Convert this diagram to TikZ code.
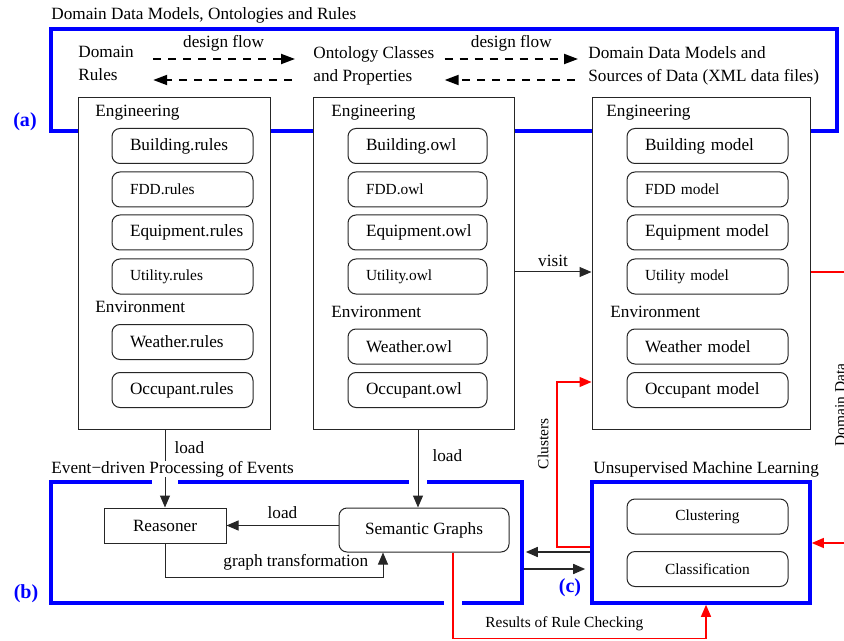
\documentclass[tikz,border=0pt]{standalone}
\usepackage{fontspec}
\setmainfont{Liberation Serif}
\usetikzlibrary{arrows.meta,fit}
\hyphenpenalty=10000
\tikzset{
  smalltext/.style={font=\fontsize{7.7pt}{9pt}\selectfont},
  region/.style={draw=blue, line width=1.8pt, inner sep=0pt},
  colbox/.style={draw=black!85, fill=white, line width=0.5pt, inner sep=0pt},
  filebox/.style={draw=black!85, line width=0.5pt, rounded corners=4pt, minimum height=17.5pt,
    inner xsep=9pt, inner ysep=0pt, align=left, text width=#1},
  filebox/.default=52.5pt,
  procbox/.style={draw=black!85, line width=0.5pt, minimum height=17.5pt},
  lbl/.style={inner sep=0pt, anchor=base west},
  paneltag/.style={text=blue, font=\fontsize{10pt}{12pt}\selectfont\bfseries},
  link/.style={draw=black!85, line width=0.5pt, -{Triangle[length=6pt,width=5pt]}},
  redlink/.style={draw=red, line width=0.6pt, -{Triangle[length=6pt,width=5pt]}},
  designflow/.style={line width=1pt, dash pattern=on 4pt off 3.5pt, -{Triangle[length=7pt,width=5pt]}},
}
\begin{document}
\begin{tikzpicture}[x=0.5pt,y=-0.5pt,font=\fontsize{8.6pt}{11.5pt}\selectfont]
  \useasboundingbox (0,0) rectangle (844,641);
  \clip (0,0) rectangle (844,641);

  % (a) domain models, ontologies and rules
  \node[lbl] (ttla) at (51,20) {Domain Data Models, Ontologies and Rules};
  \node[region, fit={(51,29) (837,131)}] (doma) {};
  \node[paneltag] (taga) at (25,122) {(a)};
  \node[anchor=north west, inner sep=0pt, align=left] (dr) at (78,46) {Domain\\Rules};
  \node[anchor=north west, inner sep=0pt, align=left] (oc) at (313,46) {Ontology Classes\\and Properties};
  \node[anchor=north west, inner sep=0pt, align=left] (dd) at (588,46) {Domain Data Models and\\Sources of Data (XML data files)};
  \coordinate (up) at (0,59);
  \coordinate (dn) at (0,80);
  \draw[designflow, shorten <=9.5pt, shorten >=9pt] (dr.east |- up) -- node[above] {design flow} (oc.west |- up);
  \draw[designflow, shorten <=10.5pt, shorten >=9.5pt] (oc.west |- dn) -- (dr.east |- dn);
  \draw[designflow, shorten <=5pt, shorten >=5pt] (oc.east |- up) -- node[above] {design flow} (dd.west |- up);
  \draw[designflow, shorten <=6.5pt, shorten >=5pt] (dd.west |- dn) -- (oc.east |- dn);

  \node[colbox, fit={(78,98) (270,429)}] (rules) {};
  \node[colbox, fit={(313,98) (514,429)}] (owl) {};
  \node[colbox, fit={(592,98) (810,429)}] (models) {};

  \node[lbl] at (95,117) {Engineering};
  \node[filebox] (rB) at (182.5,146) {Building.rules};
  \node[filebox, smalltext] (rF) at (182.5,189.5) {FDD.rules};
  \node[filebox] (rE) at (182.5,232.5) {Equipment.rules};
  \node[filebox, smalltext] (rU) at (182.5,276.5) {Utility.rules};
  \node[lbl] at (95,313) {Environment};
  \node[filebox] (rW) at (182.5,342) {Weather.rules};
  \node[filebox] (rO) at (182.5,390) {Occupant.rules};

  \node[lbl] at (331,117) {Engineering};
  \node[filebox=51.5pt] (oB) at (417.5,146) {Building.owl};
  \node[filebox=51.5pt, smalltext] (oF) at (417.5,189.5) {FDD.owl};
  \node[filebox=51.5pt] (oE) at (417.5,232.5) {Equipment.owl};
  \node[filebox=51.5pt, smalltext] (oU) at (417.5,276.5) {Utility.owl};
  \node[lbl] at (331,317) {Environment};
  \node[filebox=51.5pt] (oW) at (417.5,346.5) {Weather.owl};
  \node[filebox=51.5pt] (oO) at (417.5,390) {Occupant.owl};

  \node[lbl] at (606,117) {Engineering};
  \node[filebox=62.5pt] (mB) at (707.5,146) {Building model};
  \node[filebox=62.5pt, smalltext] (mF) at (707.5,189.5) {FDD model};
  \node[filebox=62.5pt] (mE) at (707.5,232.5) {Equipment model};
  \node[filebox=62.5pt, smalltext] (mU) at (707.5,276.5) {Utility model};
  \node[lbl] at (610,317) {Environment};
  \node[filebox=62.5pt] (mW) at (707.5,346.5) {Weather model};
  \node[filebox=62.5pt] (mO) at (707.5,390) {Occupant model};

  \coordinate (vis) at (0,272);
  \draw[link] (owl.east |- vis) -- node[above, inner sep=2.5pt] {visit} (models.west |- vis);

  % (b) event-driven processing, (c) machine learning
  \node[region, fit={(51,482) (522,603)}] (evt) {};
  \node[paneltag] (tagb) at (26,594) {(b)};
  \node[lbl] (ttlc) at (593,473) {Unsupervised Machine Learning};
  \node[region, fit={(592,482) (810,603)}] (ml) {};
  \node[paneltag] (tagc) at (570,588) {(c)};
  \fill[white] (152,476) rectangle (178,488);
  \fill[white] (409,476) rectangle (427,488);
  \fill[white] (444,597) rectangle (462,609);

  \node[procbox, minimum width=61pt] (reas) at (165,525.5) {Reasoner};
  \node[procbox, rounded corners=4pt, minimum width=85pt, minimum height=22pt] (sem) at (424,530) {Semantic Graphs};
  \node[procbox, smalltext, rounded corners=4pt, minimum width=80.5pt] (clu) at (707.5,516.5) {Clustering};
  \node[procbox, smalltext, rounded corners=4pt, minimum width=80.5pt] (cla) at (707.5,569) {Classification};

  \draw[link] (rules.south -| reas) -- node[right, pos=0.23, inner sep=4.5pt] {load} (reas.north);
  \draw[link] ([xshift=-3pt]sem.north |- owl.south) -- node[right, pos=0.33, inner sep=7pt] {load} ([xshift=-3pt]sem.north);
  \draw[link] (sem.west |- reas) -- node[above] {load} (reas.east);
  \draw[link] (reas.south) -- ++(0,34) -| node[pos=0.3, above] {graph transformation} ([xshift=-20.5pt]sem.south);
  \node[lbl, fill=white] (ttlb) at (51,473) {Event−driven Processing of Events};

  \coordinate (m1) at (0,552);
  \coordinate (m2) at (0,569);
  \draw[link, line width=0.8pt, shorten >=1pt] (ml.west |- m1) -- (evt.east |- m1);
  \draw[link, line width=0.8pt, shorten >=2.5pt] (evt.east |- m2) -- (ml.west |- m2);

  \coordinate (cl) at (557,382);
  \draw[redlink] ([yshift=-2.25pt]ml.west) -| (cl) -- (models.west |- cl);
  \node[smalltext, rotate=90, anchor=south, inner sep=1pt] (clus) at (551,444) {Clusters};
  \draw[redlink] ([xshift=14.5pt]sem.south) -- ++(0,86) -| node[pos=0.22, above, smalltext] {Results of Rule Checking} ([xshift=2.5pt]ml.south);

  \coordinate (dd1) at (870,272);
  \coordinate (dd2) at (870,543);
  \draw[redlink] (models.east |- vis) -- (dd1) -- (dd2) -- (ml.east |- dd2);
  \node[smalltext, rotate=90, anchor=south, inner sep=1pt] (ddat) at (848,405) {Domain Data};
\end{tikzpicture}
\end{document}
